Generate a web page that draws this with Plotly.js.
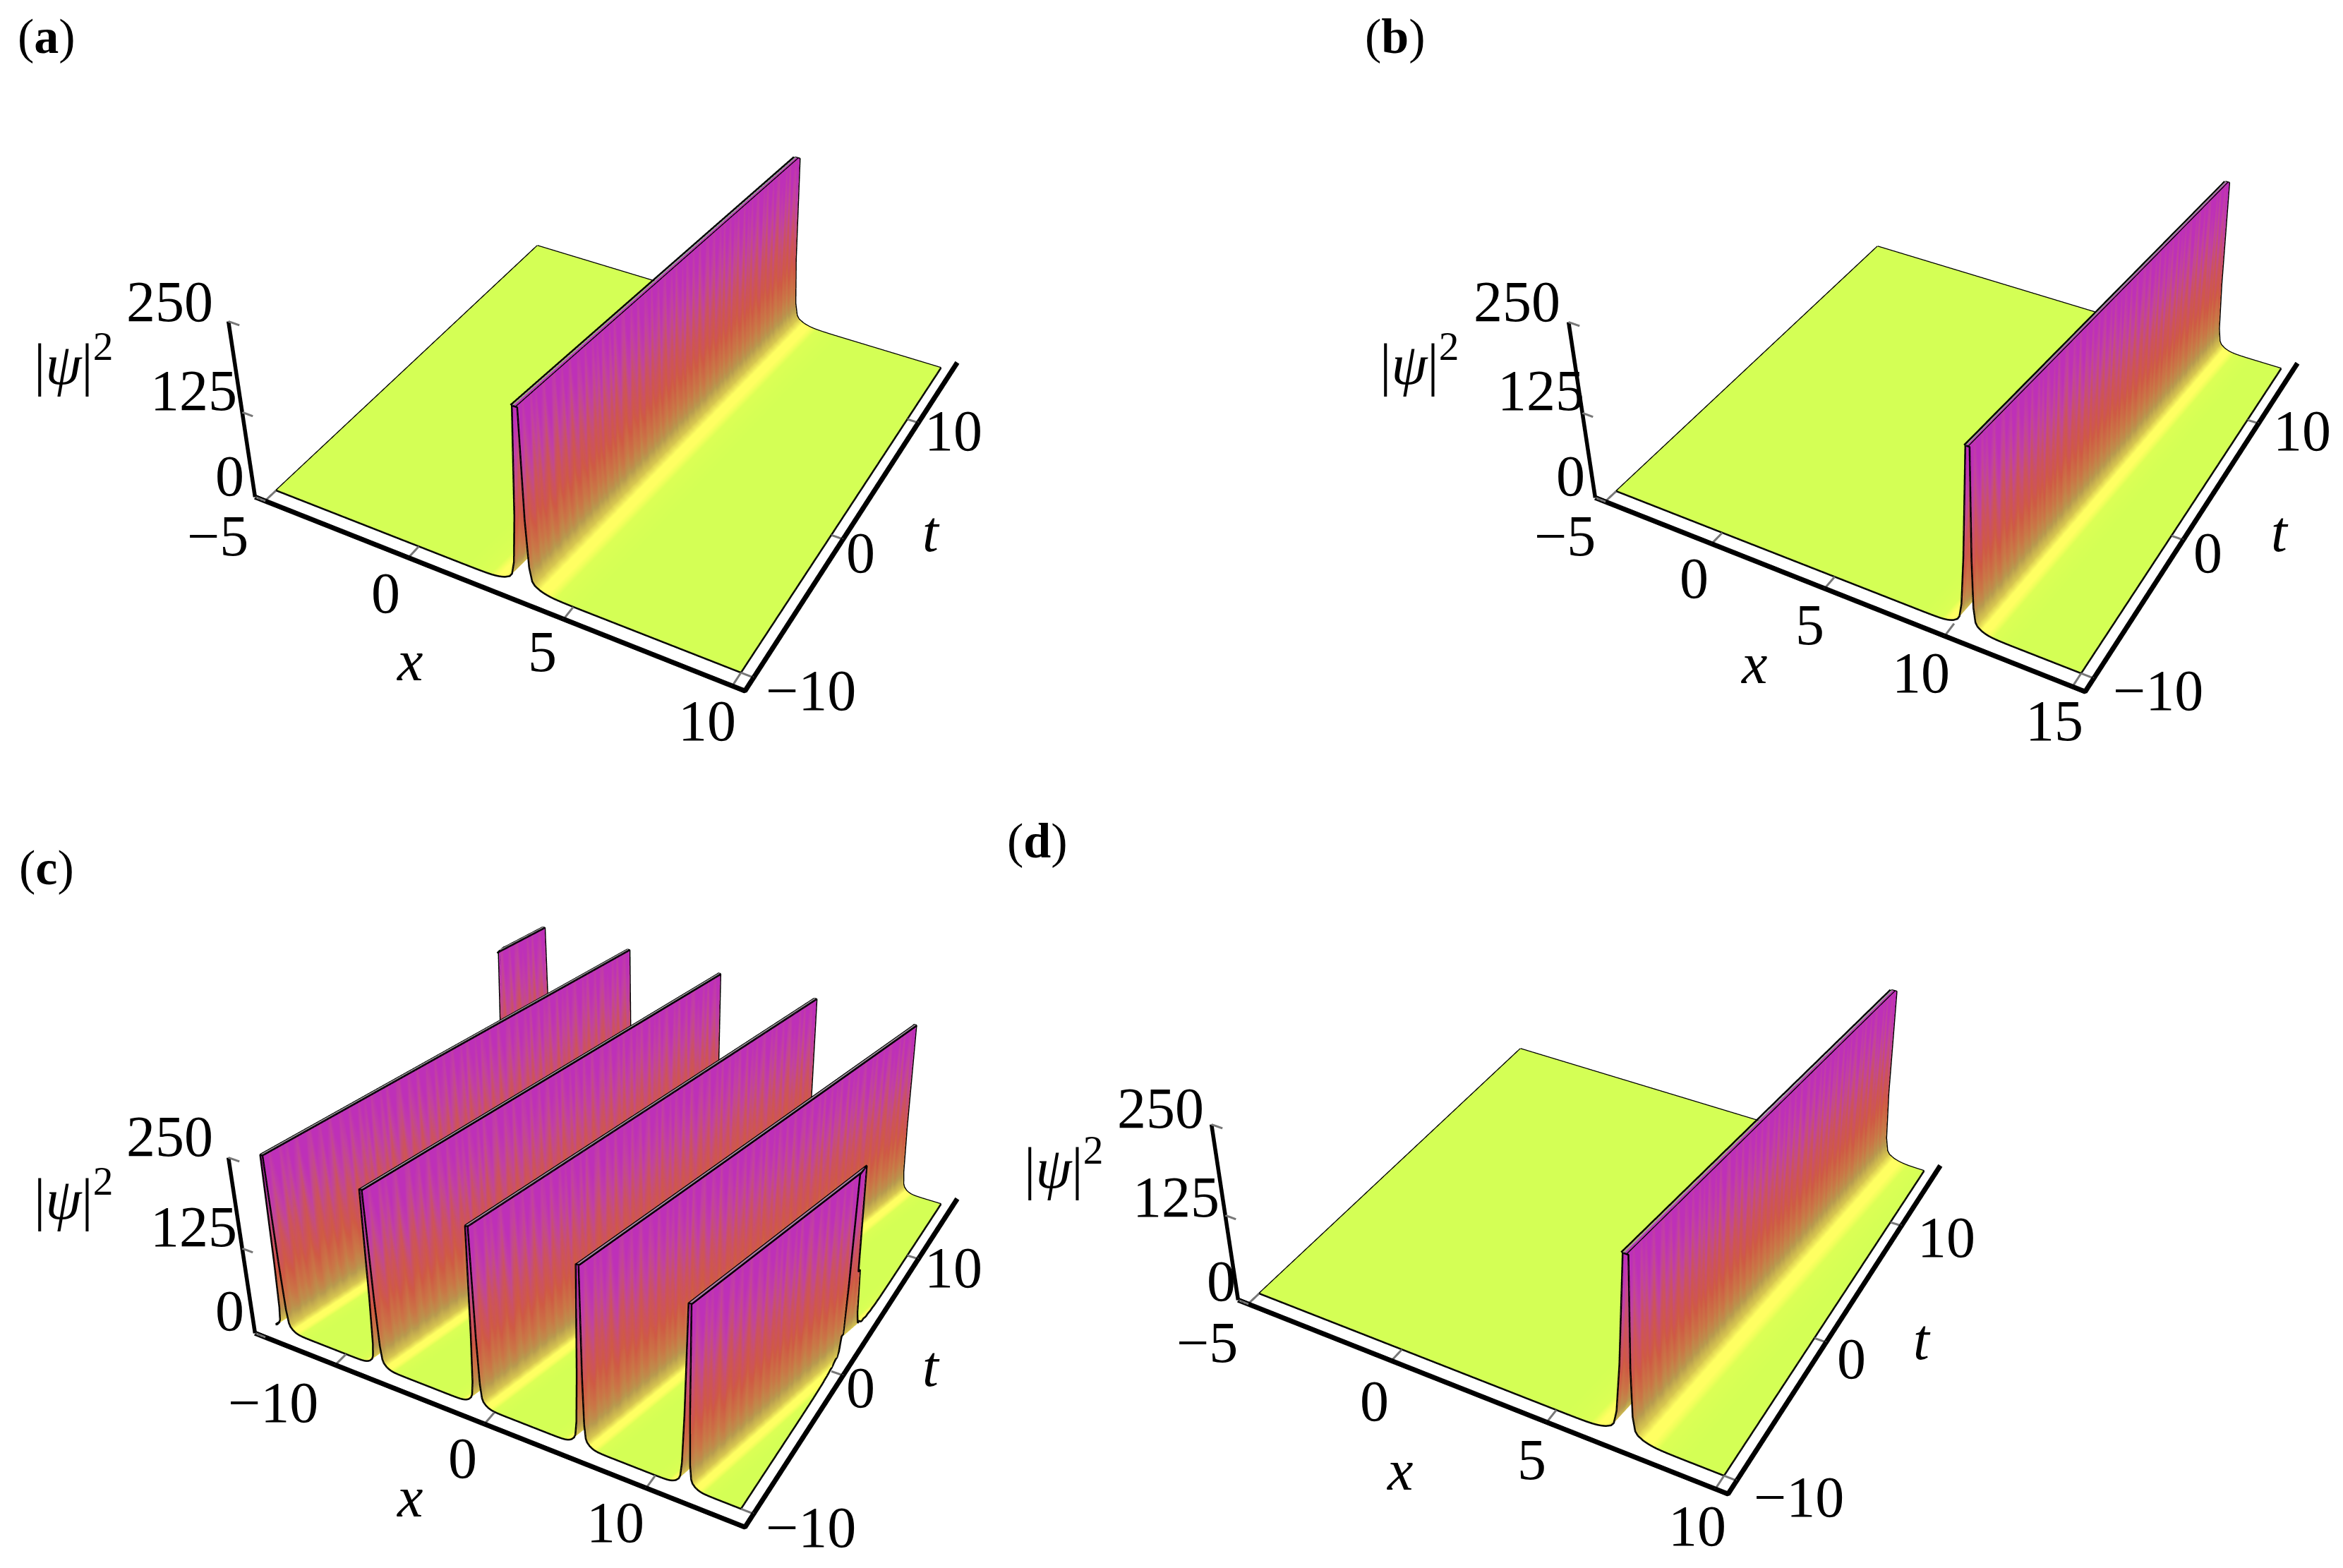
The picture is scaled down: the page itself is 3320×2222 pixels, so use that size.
<!DOCTYPE html>
<html>
<head>
<meta charset="utf-8">
<script src="https://cdn.plot.ly/plotly-3.0.1.min.js"></script>
<style>html,body{margin:0;background:#fff;width:3320px;height:2222px;overflow:hidden;position:relative}</style>
</head>
<body>
<div id="chart" style="position:absolute;left:0;top:-677px"></div>
<script>
const tRange = [-10, 15];
const zTicks = [0, 125, 250];
const tTicks = [-10, 0, 10];
const step = 0.08;
// ridge height at 0, 1, 2... steps from its centre, clipped at 250 like the picture
const foot = [250,250,100,33,14,9,7,5,3.8,2.8,2,1.45,1,0.7,0.5,0.35,0.25,0.17,0.12,0.08,0.05,0.03,0.01,0];
// colour streaks across the walls, one value per t row
const streak = [0,0.06,-0.05,0.03,0.08,-0.06,0.02,-0.04,0.07,0,-0.07,0.05,0.09,-0.03,-0.06,0.06,
  0.01,-0.05,0.08,0.02,-0.07,0.04,0.07,-0.04,0,0.08,-0.06,0.03,0.06,-0.05,0.04,-0.03,
  0.09,-0.06,0.01,0.06,-0.04,0.07,-0.07,0.03,0.08,-0.03,-0.06,0.05,0.07,-0.05,0.01,0.06,
  -0.07,0.04,0.08,-0.04,0,0.07,-0.06,0.05,0.02,-0.05,0.08,0,-0.06,0.06,0.03,-0.04,
  0.07,-0.07,0.02,0.06,-0.03,0.09,-0.05,0.01,0.07,-0.06,0.04,0.05,-0.07,0.03,0.08,-0.02,
  -0.05,0.06,0,-0.06,0.08,0.03,-0.04,0.05,-0.07,0.07,0.02,-0.05,0.09,-0.03,0.01,-0.06,
  0.06,0.04,-0.07,0.08,-0.02,0.03,-0.05,0.07,0,-0.06,0.05,0.08,-0.04,0.02,-0.07,0.06,
  0.03,-0.05,0.09,-0.03,-0.06,0.05,0.01,0.07,-0.05,0.04,-0.07,0.08,0,-0.04,0.06,-0.02];

const rangeA = [-5, 10], ticksA = [-5, 0, 5, 10], startA = [3.36], endA = [4.6];
const rangeB = [-5, 15], ticksB = [-5, 0, 5, 10, 15], startB = [10.5], endB = [11.8];
const rangeC = [-15, 15], ticksC = [-10, 0, 10];
const startC = [-20.7, -14.3, -7.7, -1.1, 5.5, 11.8], endC = [-14.1, -7.7, -1.1, 5.5, 12.1, 18.4];
const rangeD = [-5, 10], ticksD = [-5, 0, 5, 10], startD = [7.04], endD = [8.36];

const labelsA = [["(<b>a</b>)",33,27,70],["250",115,204],["125",131,263],["0",155,320],["|<i>ψ</i>|<sup>2</sup>",51,243],["−5",147,360],["0",259,398],["5",363,437],["10",473,483],["<i>x</i>",275,443],["−10",542,463],["0",575,371],["10",637,290],["<i>t</i>",622,357]];
const labelsB = [["(<b>b</b>)",931,27,70],["250",1012,204],["125",1028,263],["0",1048,320],["|<i>ψ</i>|<sup>2</sup>",947,243],["−5",1044,360],["0",1130,388],["5",1207,419],["10",1281,451],["15",1370,483],["<i>x</i>",1170,445],["−10",1439,463],["0",1472,371],["10",1535,290],["<i>t</i>",1520,357]];
const labelsC = [["(<b>c</b>)",33,581,70],["250",115,760],["125",131,820],["0",155,876],["|<i>ψ</i>|<sup>2</sup>",51,799],["−10",184,937],["0",310,974],["10",412,1017],["<i>x</i>",275,1000],["−10",542,1020],["0",575,927],["10",637,847],["<i>t</i>",622,913]];
const labelsD = [["(<b>d</b>)",693,563,70],["250",775,741],["125",785,800],["0",815,856],["|<i>ψ</i>|<sup>2</sup>",710,778],["−5",806,897],["0",917,936],["5",1022,975],["10",1132,1019],["<i>x</i>",934,982],["−10",1200,1000],["0",1235,908],["10",1298,827],["<i>t</i>",1282,895]];

// camera and scene box that put panel (a) on the reference corners; the plot runs past the window so the scenes can be this large
const pad = { x: 0.024, t: 0.035 }, room = 0.012, zRoom = 8;
const eye = { x: 1.3649, y: -2.5046, z: 2.0902 }, center = { x: -0.1282, y: 0.2533, z: 0 };
const aspY = 0.9912, aspZ = 0.4176;
const sceneW = 1500, sceneH = 2101.93, sceneX = 888.88, sceneY = 374.32;
const topOver = 677, pageW = 3548, pageH = 3297;

const colors = [[0,"#D4FF55"],[0.05,"#DCFF55"],[0.065,"#EEFF5A"],[0.09,"#FFFF62"],[0.14,"#FFFF62"],[0.2,"#D8C850"],[0.316,"#B89A4E"],[0.45,"#CA7646"],[0.6,"#CF5A44"],[0.72,"#CC5260"],[0.8,"#C44C84"],[0.88,"#C240A4"],[1,"#BE30B8"]];

function panel(n, range, start, end, ticks, labels, dx, dy) {
  const slant = end[0] - start[0];
  const first = Math.min(range[0], start[0]) - 1 - slant, last = Math.max(range[1], start[start.length - 1]) + 1;
  const cols = Math.round((last - first) / step) + 1;
  const centres = start.map(p => Math.round((p - first) / step));
  const zs = [];
  for (let j = 0; j < cols; j++) {
    let v = 0;
    centres.forEach(c => { const k = Math.abs(j - c); if (k < foot.length) v = Math.max(v, foot[k]); });
    zs.push(v);
  }
  const rows = streak.length, ts = streak.map((_, i) => tRange[0] + (tRange[1] - tRange[0]) * i / (rows - 1));
  const xMat = [], zMat = [];
  ts.forEach((_, i) => {
    const shift = first + slant * i / (rows - 1);
    const inLow = Math.ceil((range[0] - shift) / step), inHigh = Math.floor((range[1] - shift) / step);
    // columns past the box collapse onto its edge with the edge height
    xMat.push(zs.map((_, j) => Math.min(range[1], Math.max(range[0], shift + j * step))));
    zMat.push(zs.map((_, j) => zs[Math.min(inHigh, Math.max(inLow, j))]));
  });
  const yMat = ts.map(t => zs.map(() => t));
  const sid = n === 1 ? "scene" : "scene" + n;
  const surf = {
    type: "surface", scene: sid, x: xMat, y: yMat, z: zMat,
    // streaks only on the wall, the yellow band at its foot stays smooth
    surfacecolor: zMat.map((r, i) => r.map(v => Math.sqrt(v) * (1 + 1.5 * streak[i] * Math.min(1, v / 60)))),
    cmin: 0, cmax: Math.sqrt(250), colorscale: colors, showscale: false, hoverinfo: "skip",
    lighting: { ambient: 1, diffuse: 0, specular: 0, roughness: 1, fresnel: 0 }
  };
  const ex = [], ey = [], ez = [];
  [0, rows - 1].forEach(i => {
    xMat[i].forEach((x, j) => { ex.push(x); ey.push(ts[i]); ez.push(zMat[i][j]); });
    ex.push(null); ey.push(null); ez.push(null);
  });
  [0, cols - 1].forEach(j => {
    ts.forEach((t, i) => { ex.push(xMat[i][j]); ey.push(t); ez.push(zMat[i][j]); });
    ex.push(null); ey.push(null); ez.push(null);
  });
  const cx = [], cy = [], cz = [];
  const crest = (p, e, xs, ys, zz) => {
    const a = Math.max(0, (range[0] - p) / (e - p)), b = Math.min(1, (range[1] - p) / (e - p));
    if (a >= b) return;
    const span = tRange[1] - tRange[0];
    xs.push(p + (e - p) * a, p + (e - p) * b, null);
    ys.push(tRange[0] + span * a, tRange[0] + span * b, null);
    zz.push(250, 250, null);
  };
  start.forEach((p, i) => {
    crest(p - step, end[i] - step, ex, ey, ez);
    crest(p + step, end[i] + step, ex, ey, ez);
    crest(p, end[i], cx, cy, cz);
  });
  const rx = range[1] - range[0], rt = tRange[1] - tRange[0];
  const xLow = range[0] - pad.x * rx, xHigh = range[1] + pad.x * rx, tLow = tRange[0] - pad.t * rt, tHigh = tRange[1] + pad.t * rt;
  const line = (x, y, z, color, width) => ({ type: "scatter3d", scene: sid, mode: "lines", x, y, z, hoverinfo: "skip", showlegend: false, line: { color, width } });
  const tx = [], ty = [], tz = [];
  ticks.forEach(v => { tx.push(v, v, null); ty.push(tLow, tRange[0], null); tz.push(0, 0, null); });
  tTicks.forEach(v => { tx.push(xHigh, range[1], null); ty.push(v, v, null); tz.push(0, 0, null); });
  zTicks.forEach(v => { tx.push(xLow, xLow + 0.025 * rx, null); ty.push(tLow, tLow, null); tz.push(v, v, null); });
  const traces = [
    surf,
    line(ex, ey, ez, "#000", 5),
    line(cx, cy, cz, "#9a9a9a", 6),
    line([xLow, xHigh, xHigh], [tLow, tLow, tHigh], [0, 0, 0], "#000", 14),
    line([xLow, xLow], [tLow, tLow], [0, 250], "#000", 11),
    line(tx, ty, tz, "#777", 6)
  ];
  const axis = r => ({ range: r, visible: false });
  const left = dx + sceneX - sceneW / 2, top = dy + sceneY - sceneH / 2 + topOver;
  const scene = {
    domain: { x: [left / pageW, (left + sceneW) / pageW], y: [1 - (top + sceneH) / pageH, 1 - top / pageH] },
    aspectmode: "manual",
    aspectratio: { x: 1 + 2 * (pad.x + room), y: aspY * (1 + 2 * (pad.t + room)), z: aspZ * (250 + 2 * zRoom) / 250 },
    camera: { eye, center, up: { x: 0, y: 0, z: 1 }, projection: { type: "perspective" } },
    xaxis: axis([xLow - room * rx, xHigh + room * rx]),
    yaxis: axis([tLow - room * rt, tHigh + room * rt]),
    zaxis: axis([-zRoom, 250 + zRoom])
  };
  const notes = labels.map(l => ({
    xref: "paper", yref: "paper", x: (l[1] - 2) * 2.128 / pageW, y: 1 - ((l[2] - 3) * 2.128 + topOver) / pageH,
    text: l[0], showarrow: false, xanchor: "center", yanchor: "middle",
    font: { family: "Liberation Serif", size: l[3] || 82, color: "#000" }
  }));
  return { traces, sid, scene, notes };
}

const panels = [
  panel(1, rangeA, startA, endA, ticksA, labelsA, 0, 0),
  panel(2, rangeB, startB, endB, ticksB, labelsB, 1899, 1),
  panel(3, rangeC, startC, endC, ticksC, labelsC, 0, 1185),
  panel(4, rangeD, startD, endD, ticksD, labelsD, 1393, 1138)
];
const layout = { width: pageW, height: pageH, margin: { l: 0, r: 0, t: 0, b: 0 }, paper_bgcolor: "rgba(0,0,0,0)", showlegend: false, annotations: panels.flatMap(p => p.notes) };
panels.forEach(p => { layout[p.sid] = p.scene; });
Plotly.newPlot("chart", panels.flatMap(p => p.traces), layout, { displayModeBar: false });
</script>
</body>
</html>
